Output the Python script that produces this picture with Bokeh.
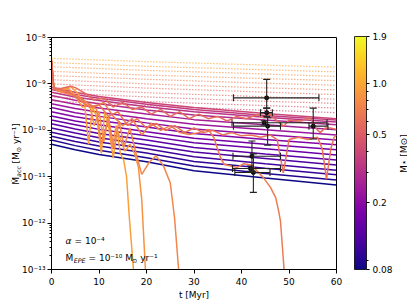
import math
from bokeh.plotting import figure
from bokeh.models import (ColumnDataSource, LogColorMapper, ColorBar, FixedTicker,
                          CustomJSTickFormatter, Whisker, TeeHead, Label)
from bokeh.palettes import Plasma256
from bokeh.transform import log_cmap
from bokeh.embed import file_html
from bokeh.resources import INLINE

# ---------------- data ----------------
# smooth accretion tracks (solid), log10 Mdot at the times below
t_solid = [0, 5, 10, 20, 30, 45, 60]
mass_solid = [0.080, 0.089, 0.099, 0.110, 0.122, 0.135, 0.151, 0.167,
              0.186, 0.207, 0.230, 0.255, 0.284, 0.315, 0.350, 0.389]
logmdot_solid = [
    [-10.30, -10.42, -10.52, -10.68, -10.87, -11.03, -11.18],
    [-10.21, -10.33, -10.43, -10.59, -10.77, -10.93, -11.07],
    [-10.13, -10.24, -10.34, -10.49, -10.67, -10.82, -10.96],
    [-10.04, -10.15, -10.25, -10.40, -10.57, -10.72, -10.86],
    [-9.95, -10.06, -10.16, -10.31, -10.47, -10.61, -10.75],
    [-9.86, -9.97, -10.07, -10.21, -10.37, -10.51, -10.64],
    [-9.78, -9.88, -9.98, -10.12, -10.27, -10.40, -10.53],
    [-9.69, -9.80, -9.88, -10.03, -10.17, -10.30, -10.42],
    [-9.60, -9.71, -9.79, -9.93, -10.07, -10.20, -10.31],
    [-9.51, -9.62, -9.70, -9.84, -9.97, -10.09, -10.21],
    [-9.43, -9.53, -9.61, -9.75, -9.87, -9.99, -10.10],
    [-9.34, -9.44, -9.52, -9.65, -9.77, -9.88, -9.99],
    [-9.25, -9.35, -9.43, -9.56, -9.67, -9.78, -9.88],
    [-9.18, -9.28, -9.36, -9.49, -9.60, -9.72, -9.82],
    [-9.12, -9.23, -9.31, -9.44, -9.55, -9.68, -9.78],
    [-9.07, -9.18, -9.27, -9.40, -9.51, -9.64, -9.75],
]

# dotted tracks (higher masses)
t_dotted = [0, 20, 40, 60]
mass_dotted = [0.42, 0.458, 0.50, 0.545, 0.594, 0.648, 0.706, 0.770, 0.840, 0.916, 1.0]
logmdot_dotted = [
    [-9.37, -9.47, -9.55, -9.62],
    [-9.28, -9.38, -9.45, -9.52],
    [-9.19, -9.28, -9.36, -9.42],
    [-9.09, -9.19, -9.26, -9.33],
    [-9.00, -9.09, -9.16, -9.23],
    [-8.91, -9.00, -9.07, -9.13],
    [-8.82, -8.90, -8.97, -9.03],
    [-8.73, -8.81, -8.87, -8.93],
    [-8.63, -8.71, -8.77, -8.84],
    [-8.54, -8.62, -8.68, -8.74],
    [-8.45, -8.52, -8.58, -8.64],
]

# fluctuating tracks (external photoevaporation)
mass_jag = [0.95, 0.85, 0.75, 0.68, 0.62, 0.58]
t_jag = [
    [0, 0.5, 2, 4, 5.5, 7, 7.8, 8.6, 9.5, 10.5, 11.2, 12, 13, 13.8, 14.5, 15.2, 15.8, 16.4, 17.3],
    [0, 0.5, 2, 3.5, 5, 6.5, 8, 9, 10, 11, 12, 12.8, 13.6, 14.5, 15.5, 16.5, 17.5, 18.3, 19, 19.8],
    [0, 0.5, 3, 6, 8, 9.5, 10.5, 12, 13.2, 14.2, 15.3, 16.5, 17.8, 19, 20.5, 22, 23.5, 25, 25.9, 26.8],
    [0, 0.5, 3, 6, 9, 11, 13, 15, 17, 19, 21, 23, 25, 27, 29, 31, 33, 34.2, 34.9, 35.6, 36.3,
     37.7, 39.1, 40.5, 42, 43.3, 44.6, 46.1, 47.2, 47.8, 48.2, 49],
    [0, 0.5, 2, 4, 6, 8, 10, 12, 14, 16, 18, 20, 22, 24, 26, 28, 30, 32, 34, 36, 38, 40, 42, 44,
     46, 47.5, 48.8, 50, 52, 54, 56, 57, 57.9, 58.8, 59.5, 60],
    [0, 0.5, 2, 4, 5, 7, 9, 11, 13, 15, 17, 19, 21, 23, 25, 27, 29, 31, 33, 35, 37, 39, 41, 43.3,
     44.6, 46, 47.2, 48.9, 50, 52.4, 54.5, 55.6, 56.6, 57.6, 58.7, 60],
]
logmdot_jag = [
    [-8.45, -9.1, -9.15, -9.05, -9.2, -9.45, -10.3, -9.5, -9.7, -10.5, -9.6, -9.9, -10.6, -10.0,
     -10.5, -10.65, -11.0, -11.9, -13.05],
    [-8.5, -9.1, -9.18, -9.1, -9.25, -9.5, -9.45, -9.9, -9.6, -10.25, -9.7, -10.4, -9.9, -10.2,
     -10.45, -10.3, -10.5, -10.8, -11.5, -13.05],
    [-8.5, -9.1, -9.2, -9.3, -9.45, -9.55, -10.3, -9.75, -10.4, -9.8, -10.35, -9.95, -10.5, -10.95,
     -10.7, -10.55, -10.75, -11.13, -11.88, -13.05],
    [-8.5, -9.1, -9.15, -9.3, -9.5, -9.4, -9.7, -9.9, -9.75, -10.1, -9.85, -10.0, -9.9, -10.05,
     -10.09, -10.05, -9.98, -10.16, -10.38, -10.59, -10.73, -10.77, -10.80, -10.72, -10.75, -10.88,
     -11.02, -11.23, -11.45, -11.73, -11.95, -13.05],
    [-8.5, -9.1, -9.12, -9.2, -9.35, -9.5, -9.45, -9.7, -9.6, -9.9, -9.75, -9.95, -9.85, -10.0,
     -9.9, -10.05, -9.95, -10.05, -10.0, -10.1, -10.05, -10.12, -10.1, -10.15, -10.1, -10.2,
     -10.92, -10.2, -10.15, -10.2, -10.15, -10.4, -11.05, -10.4, -10.15, -10.1],
    [-8.5, -9.1, -9.1, -9.05, -9.08, -9.2, -9.35, -9.3, -9.5, -9.4, -9.55, -9.5, -9.65, -9.55,
     -9.7, -9.6, -9.75, -9.65, -9.75, -9.7, -9.8, -9.7, -9.75, -9.66, -9.73, -9.66, -9.77, -9.91,
     -9.78, -9.8, -9.73, -9.95, -10.05, -9.95, -9.95, -9.98],
]

# observed sources with error bars
obs_t = [45.3, 45.3, 44.8, 45.5, 55.1, 42.2, 41.9, 42.5]
obs_mdot = [5.0e-10, 2.4e-10, 1.45e-10, 1.23e-10, 1.23e-10, 2.75e-11, 1.5e-11, 1.23e-11]
obs_t_lo = [38.3, 44.0, 38.0, 38.3, 54.2, 38.2, 38.1, 38.6]
obs_t_hi = [56.3, 46.5, 58.0, 48.2, 58.2, 48.2, 48.2, 46.0]
obs_mdot_lo = [3.0e-10, 2.0e-10, 1.3e-10, 4.8e-11, 6.5e-11, 1.3e-11, 1.3e-11, 4.6e-12]
obs_mdot_hi = [1.25e-9, 3.0e-10, 1.6e-10, 1.86e-10, 3.0e-10, 5.9e-11, 1.7e-11, 3.1e-11]

y_ticks = [1e-13, 1e-12, 1e-11, 1e-10, 1e-9, 1e-8]
x_ticks = [0, 10, 20, 30, 40, 50, 60]
cb_ticks = [0.08, 0.2, 0.5, 1.0, 1.9]
cb_labels = ["0.08", "0.2", "0.5", "1.0", "1.9"]
cb_minor = [0.09, 0.3, 0.4, 0.6, 0.7, 0.8, 0.9]
M_LOW, M_HIGH = 0.08, 1.9

# ---------------- figure ----------------
W, H = 407, 305
FL, FT, FW, FH = 51, 36, 285, 233
XMIN, XMAX, YMIN, YMAX = 0, 60, 1e-13, 1e-8

p = figure(width=W, height=H, x_range=(XMIN, XMAX), y_range=(YMIN, YMAX),
           y_axis_type="log", output_backend="svg", toolbar_location=None,
           min_border_left=FL, min_border_right=W - FL - FW,
           min_border_top=FT, min_border_bottom=H - FT - FH)
p.xgrid.visible = False
p.ygrid.visible = False
p.outline_line_color = "black"
p.outline_line_width = 1
p.background_fill_color = "white"
p.border_fill_color = "white"

FONT = "DejaVu Sans"
for ax in (p.xaxis[0], p.yaxis[0]):
    ax.major_tick_out = 4
    ax.major_tick_in = 0
    ax.minor_tick_out = 2
    ax.minor_tick_in = 0
    ax.major_label_text_font = FONT
    ax.major_label_text_font_size = "9px"
    ax.major_label_text_color = "black"
    ax.axis_line_color = "black"
    ax.major_tick_line_color = "black"
    ax.minor_tick_line_color = "black"

p.xaxis.ticker = FixedTicker(ticks=x_ticks)
p.xaxis.major_label_standoff = 4
p.xaxis.axis_label = "t [Myr]"
p.xaxis.axis_label_text_font = FONT
p.xaxis.axis_label_text_font_size = "9px"
p.xaxis.axis_label_text_font_style = "normal"
p.xaxis.axis_label_text_color = "black"
p.xaxis.axis_label_standoff = 2
p.yaxis.ticker = FixedTicker(ticks=y_ticks,
                             minor_ticks=[k * 10.0 ** n for n in range(-13, -8) for k in range(2, 10)])
p.yaxis.major_label_standoff = 2
p.yaxis.formatter = CustomJSTickFormatter(code="""
const sup = {'-':'\u207b','0':'\u2070','1':'\u00b9','2':'\u00b2','3':'\u00b3','4':'\u2074',
             '5':'\u2075','6':'\u2076','7':'\u2077','8':'\u2078','9':'\u2079'};
const e = Math.round(Math.log10(tick));
return '10' + String(e).split('').map(c => sup[c]).join('');
""")

cmap = log_cmap("mass", Plasma256, M_LOW, M_HIGH)

solid_src = ColumnDataSource(dict(
    xs=[list(t_solid) for _ in logmdot_solid],
    ys=[[10 ** v for v in row] for row in logmdot_solid],
    mass=mass_solid))
p.multi_line("xs", "ys", source=solid_src, line_color=cmap, line_width=1.5)

dot_src = ColumnDataSource(dict(
    xs=[list(t_dotted) for _ in logmdot_dotted],
    ys=[[10 ** v for v in row] for row in logmdot_dotted],
    mass=mass_dotted))
p.multi_line("xs", "ys", source=dot_src, line_color=cmap, line_width=1.2, line_dash="1 2")

jag_src = ColumnDataSource(dict(
    xs=t_jag,
    ys=[[10 ** v for v in row] for row in logmdot_jag],
    mass=mass_jag))
p.multi_line("xs", "ys", source=jag_src, line_color=cmap, line_width=1.5)

obs_src = ColumnDataSource(dict(t=obs_t, m=obs_mdot, tlo=obs_t_lo, thi=obs_t_hi,
                                mlo=obs_mdot_lo, mhi=obs_mdot_hi))
EC = "#222222"
p.add_layout(Whisker(base="t", lower="mlo", upper="mhi", source=obs_src, dimension="height",
                     line_color=EC, line_width=1.1, level="overlay",
                     upper_head=TeeHead(size=7, line_color=EC, line_width=1.1),
                     lower_head=TeeHead(size=7, line_color=EC, line_width=1.1)))
p.add_layout(Whisker(base="m", lower="tlo", upper="thi", source=obs_src, dimension="width",
                     line_color=EC, line_width=1.1, level="overlay",
                     upper_head=TeeHead(size=7, line_color=EC, line_width=1.1),
                     lower_head=TeeHead(size=7, line_color=EC, line_width=1.1)))
p.scatter("t", "m", source=obs_src, size=4, color="black")

# colour bar
mapper = LogColorMapper(palette=Plasma256, low=M_LOW, high=M_HIGH)
cb = ColorBar(color_mapper=mapper,
              ticker=FixedTicker(ticks=cb_ticks, minor_ticks=cb_minor),
              formatter=CustomJSTickFormatter(args=dict(v=cb_ticks, l=cb_labels), code="""
for (let i = 0; i < v.length; i++) { if (Math.abs(v[i] - tick) < 1e-6) return l[i]; }
return '';"""),
              width=12, height=FH, padding=0, margin=0, location=(18, 0),
              bar_line_color="black", bar_line_width=0.8,
              major_tick_line_color="black", major_tick_out=3, major_tick_in=0,
              minor_tick_line_color="black", minor_tick_out=2, minor_tick_in=0,
              label_standoff=3, major_label_text_font=FONT,
              major_label_text_font_size="9px", major_label_text_color="black",
              background_fill_alpha=0, border_line_color=None)
p.add_layout(cb, "right")


# ---------------- texts (positions in figure pixels) ----------------
def at(fx, fy):
    x = XMIN + (fx - FL) / FW * (XMAX - XMIN)
    ly = math.log10(YMAX) - (fy - FT) / FH * (math.log10(YMAX) - math.log10(YMIN))
    return x, 10 ** ly


def lab(text, fx, fy, size=9, italic=False, angle=0.0, side="center"):
    x, y = at(fx, fy)
    lbl = Label(x=x, y=y, text=text, text_font=FONT, text_font_size=f"{size}px",
                text_font_style="italic" if italic else "normal", angle=angle,
                text_align="left", text_baseline="alphabetic", text_color="black")
    p.add_layout(lbl, side)


SUB = 6.3
A = math.pi / 2
# y-axis label (rotated, reading upwards); outside-frame pieces live in side panels
y0 = 184
lab("\u1e40", 15.5, y0, angle=A, side="left")
lab("acc", 18.0, y0 - 8.0, size=SUB, italic=True, angle=A, side="left")
lab("[M", 15.5, y0 - 21.5, angle=A, side="above")
lab("\u2299", 18.0, y0 - 32.8, size=SUB, angle=A, side="above")
lab("yr\u207b\u00b9]", 15.5, y0 - 41.0, angle=A, side="above")

# colour-bar label
lab("M\u22c6 [M\u2299]", 403.0, 172, angle=A, side="right")

# annotations inside the axes
lab("\u03b1", 65, 240, italic=True)
lab("= 10\u207b\u2074", 74, 240)
lab("\u1e40", 65, 257)
lab("EPE", 73.3, 259.5, size=SUB, italic=True)
lab("= 10\u207b\u00b9\u2070 M", 88, 257)
lab("\u2299", 131.5, 259.5, size=SUB)
lab("yr\u207b\u00b9", 139.7, 257)

open("out.html", "w").write(file_html(p, INLINE))
